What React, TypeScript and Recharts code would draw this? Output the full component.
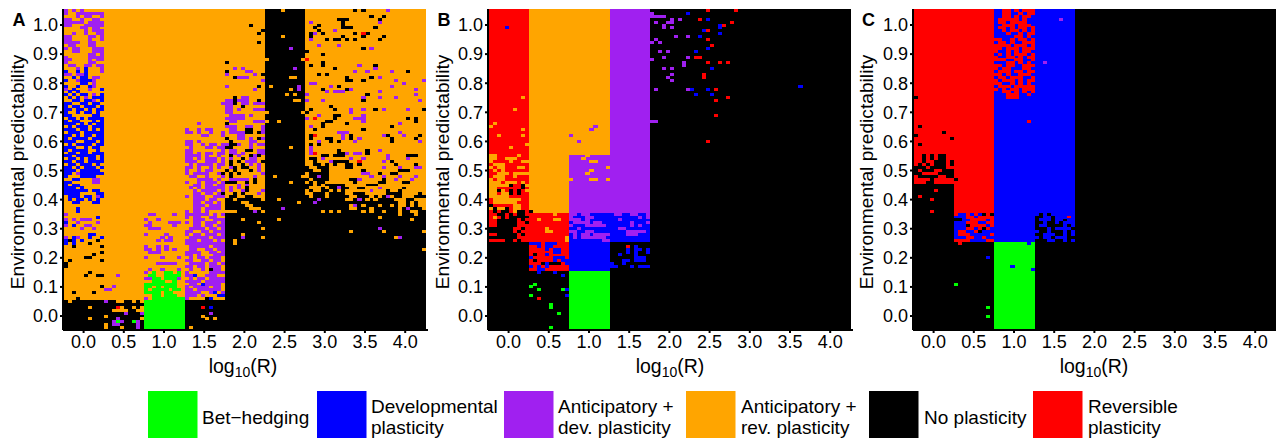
import React from "react";
import { ScatterChart, Scatter, XAxis, YAxis, ReferenceArea } from "recharts";

const xTicks = [0, 0.5, 1, 1.5, 2, 2.5, 3, 3.5, 4];
const yTicks = [0, 0.1, 0.2, 0.3, 0.4, 0.5, 0.6, 0.7, 0.8, 0.9, 1];
const palette: Record<string, string> = { G: "#00ff00", B: "#0000ff", P: "#a020f0", O: "#ffa500", K: "#000000", R: "#ff0000" };
const legendNames = [["Bet\u2212hedging"], ["Developmental", "plasticity"], ["Anticipatory +", "dev. plasticity"], ["Anticipatory +", "rev. plasticity"], ["No plasticity"], ["Reversible", "plasticity"]];
const legendKeys = ["G", "B", "P", "O", "K", "R"];

// solid regions: colour, log10R from/to, predictability from/to
const blocksA: [string, number, number, number, number][] = [
  ["K", -0.25, 4.25, -0.045, 1.055], ["O", -0.25, 1.75, 0.055, 1.055], ["O", 1.75, 2.25, 0.405, 1.055], ["O", 2.75, 4.25, 0.455, 1.055], ["G", 0.75, 1.25, -0.045, 0.055],
];
const blocksB: [string, number, number, number, number][] = [
  ["K", -0.25, 4.25, -0.045, 1.055], ["R", -0.25, 0.25, 0.355, 1.055], ["O", 0.25, 0.75, 0.355, 1.055], ["O", 0.75, 1.25, 0.555, 1.055], ["P", 0.75, 1.25, 0.355, 0.555], ["P", 1.25, 1.75, 0.355, 1.055], ["B", 0.75, 1.75, 0.255, 0.355], ["R", 0.25, 0.75, 0.155, 0.355], ["B", 0.75, 1.25, 0.155, 0.255], ["G", 0.75, 1.25, -0.045, 0.155],
];
const blocksC: [string, number, number, number, number][] = [
  ["K", -0.25, 4.25, -0.045, 1.055], ["R", -0.25, 0.25, 0.465, 1.055], ["R", 0.25, 0.75, 0.355, 1.055], ["B", 0.75, 1.75, 0.255, 1.055], ["G", 0.75, 1.25, -0.045, 0.255], ["B", 0.25, 0.75, 0.255, 0.355], ["K", 1.25, 1.75, 0.255, 0.355],
];

// speckled cells: predictability x100, then column:cells (each column is 0.05 of log10R)
const cellsA = [
"105 0:P.P.P..... 54:O 72:K 74:K 80:P",
"104 0:P..PPPPPPP",
"103 0:...P.PP..P 76:K 79:K",
"102 0:PP..P..PP. 68:KKK 78:K",
"101 0:PPPPP.PPPP 61:P 69:K 78:P",
"100 0:PP...PPPPP 46:K 63:K 69:K",
"99 0:....PP.PP. 62:K 69:KKK 77:K",
"98 0:.....P.PPP 49:K 63:K 67:P",
"97 0:..P..P..PP 48:K 61:K 62:P 64:K 72:K 74:R 75:K",
"96 0:PP....PP.P 54:O 61:K 69:K 74:K 79:K",
"95 0:PP....P..P 61:P 65:K 67:KK 70:K 72:K 78:K",
"94 0:PPPP..PP.. 48:K",
"93 0:.PP...PP.. 63:P 68:P",
"92 0:P.PP...PPP 56:P 74:K 76:P",
"91 0:..PP...PPP 60:K",
"90 0:......PP.P 64:K",
"89 0:P.....PPPP",
"88 0:PP....P.PP 50:O 59:O 60:R",
"87 0:P.....PP 40:K 64:K",
"86 0:.PP..PP.PP 61:K 64:K 73:P 77:K",
"85 0:...P.B...P 42:P 44:P 57:P 67:K 77:P",
"84 0:B..B.B...P 40:K 45:PP 72:P 75:P 81:P 85:K",
"83 0:PP.PPB.... 40:P 47:P 49:K 63:K 65:K",
"82 0:..B.BB.PP 42:K 43:PPP 56:OO 70:K 76:K 78:P",
"81 0:B..PBBBP.. 49:P 70:KK 74:K 82:P 89:P",
"80 0:....BB.P.. 61:PP 84:P",
"79 0:B..B..BP.. 40:P 48:K 51:O 58:P 66:P 68:K 81:P",
"78 0:P.B...P..B 47:P 56:O 58:P 64:K 70:K 71:P 87:P",
"77 0:.B.B...... 65:P 67:PPP 78:P",
"76 0:B.B.BB.P.B 55:O 57:O 60:P 75:K 87:P",
"75 0:.B.B.P.BBB 42:K 44:PP 74:P 78:P 82:P",
"74 0:..BB.BBP.B 40:PP 42:K 43:PPP 48:K 57:OO 60:P 64:P 74:K 88:P",
"73 0:BB..BB.BB. 39:P 40:PP 42:K 44:PP 47:PPP",
"72 0:B.BB.BBB.B 40:PP 44:K 66:K",
"71 0:BB.BB.B.BB 40:PP 43:P 47:PPP 61:K 67:K 71:P 74:P 77:K 79:P 85:P 89:K",
"70 0:B..B.BB.B. 40:PP 50:O 59:O 60:K 71:P",
"69 0:BB.....BB. 41:P 42:PP 44:P 46:P 63:P 67:KK 74:P",
"68 0:.BB.B.BBBB 40:PP 42:PPP 60:P 62:R 67:K 72:PPP 85:K 87:K",
"67 0:B.BB...B.B 41:PP 47:PPPP 50:O 53:O 65:KK 74:P 87:K",
"66 0:BBB.B.B.BB 33:P 40:K 64:K 70:K 83:P",
"65 0:.B.BBB.BBB 40:PPP 45:PP 49:P 61:P 64:K 81:K",
"64 0:BBB.BB.B.B 30:P..P.PP 41:PP 45:KK 49:P 62:K 74:K",
"63 0:.BBB.BBBBB 30:PP.P..P..P 41:PP 43:PP 45:KK 48:K 49:P 68:PPP 83:P",
"62 0:BB.B.BB.BB 34:PP 39:P 43:PP 61:K 62:R 69:P 71:K 79:P 80:K 84:P 88:K",
"61 0:B.BBBB.BBB 40:K 43:PP 46:P 48:K 49:P 61:K 65:KK 69:P 71:K 73:P 81:K 87:K",
"60 0:BBB..BBB.B 30:PP.P 41:K 46:PP 63:P 66:K 68:K 72:P 81:K 88:P",
"59 0:.B.BBBB.BB 30:PP..P.PP.P 40:PK 42:KP 46:P 48:PP 61:K 63:K",
"58 0:BBB..B.BB. 31:P...PP.PP 40:KK 46:P 56:O 61:P",
"57 0:B.BBBB..B. 30:PP.......P 41:PP 45:KK 48:PP 61:P 68:K 75:K 78:P",
"56 0:.BB.BB.BBB 30:PP.P.PP.PP 39:P.PP.P...PP 61:PR 68:KK 70:P 72:PP 75:K",
"55 0:BB.BBBBB.B 30:PPPP.P..P 39:..K.P..KPK 64:KK 67:KKK 80:P 85:KKK",
"54 0:.BB.B.BB.B 30:PP.P.PPP. 39:P.P..K.PP 61:KK 64:P 71:P 74:P 80:P 85:P",
"53 0:BB.BB.BBBB 30:PPP..PPP. 39:P.K.K.PPP.K 62:K 66:P 67:KKKK 73:R 79:P 81:K",
"52 0:.BB.BBB.B. 31:P.PPPP.P 39:P.K..K.P.P 62:KK 65:K 67:K 70:KK 73:K 82:K 87:K",
"51 0:BB.B.BBB.B 30:PP.P..P.P 39:..PK.KK..P 60:K 63:KKK 70:KK 79:P 83:P 87:PP",
"50 0:BBB.BBBBB. 30:P..P.PP.. 39:.K.K...K.P 60:KK 64:KK 74:K 83:KKK",
"49 0:BB.PBBBBBB 30:P.PPPP..P 39:K.K.K.....P 61:KKKKK 74:PP 78:K 81:KK",
"48 0:B...BBBB.. 31:PP..P... 39:P.K.....P 52:O 59:OO 61:KK 63:P 64:KK 76:P 79:P 83:P 87:P",
"47 0:..BB...PP. 33:PPPP.P 39:..PPPPP.K 60:K 62:KKKK 71:KK 73:P 79:K 82:P 86:P",
"46 0:BB.....PP. 30:P..P.PPP 39:PKKK..K.K 56:O 61:K 63:KK 72:K 78:KK 84:KK",
"45 0:B.BB...... 32:PP.PP.PP 39:P...P.P 62:O 64:O 70:OOOOO 78:OOOOOOOOOOOO",
"44 0:BBB.B..... 31:P.P.PPPP 39:P.P.P.K 61:OOO 65:O 68:P 71:OO 75:OOO 78:P 79:OOOOO 85:OOOOO",
"43 0:BBBBBB.BB. 32:P.PPPP.P 39:P.P..PK...P 60:O 62:OO 66:O 68:O 70:OOOOOO 76:P 77:OOO 81:OO 84:OOOOOO",
"42 0:BBBB....BB 32:PP.PP.PP 39:K..K.K...P 60:OO 65:O 70:OO 75:OOOOO 84:OOOO 89:O",
"41 0:.BBB.BB.PB 30:P.PPP..PP 39:P.KK..KK 61:O 65:O 71:OO 76:O 78:O 80:P 81:O 84:OOO",
"40 0:.B.BB.B.B. 32:PPP.PP 39:O 42:O 49:O 53:O 63:P 70:OO 73:P 75:O 77:O 82:OOO 87:OOO",
"39 0:..BB...BB. 32:PP.PP.PP 39:O 44:OO 58:O 62:P 83:OO 86:O 88:OO",
"38 32:PPP.PPPP 39:O 45:OO 71:O 72:P 74:O 78:O 81:O 83:OO 86:O 88:OO",
"37 0:...B...... 32:PP.PPPP 39:O 46:OOO 54:P 71:OO 76:O 83:O 85:P 89:O",
"36 0:...B 30:P.PP.P.. 39:OO 41:OO 47:P 49:O 64:O 66:O 68:O 74:O 76:O 79:O 83:O 86:OO",
"35 0:P 21:PP 27:P 30:PPPPPP.P. 39:P 83:O 87:O",
"34 8:B 30:P.PP..PP 78:O",
"33 0:P.P.PPP 20:P 23:P 32:PPP..PPP 39:P 44:O 53:O 86:O",
"32 0:B..P....P 21:P 26:PPP 30:P.PP.PPP.P 48:O",
"31 0:P.B..PP 20:PP 27:P 32:PP.PP.PP 39:P",
"30 0:....P..P 21:PP 23:P 31:PPPP.PP 39:P 49:O 78:P",
"29 30:PP..PP.PPP 71:O 79:O 89:O",
"28 6:BB 20:P 25:P 30:P.PP.PPP.P 39:P 44:O",
"27 0:P.BP..B..B 24:P 26:P 31:PPPPP.PPP 39:P 44:P 49:O 82:O 83:P",
"26 0:BKB.B...K. 23:P 25:PP 30:PPP.PPP.PP 39:O 42:O",
"25 0:B.B...K 30:PPPPPPPPP 39:P 42:O",
"24 2:K 9:K 20:P 25:P 23:P 31:PPPPP.PPP",
"23 20:PP 23:P 25:P 27:P 31:PP..PP.PP 39:P 89:O",
"22 9:K 21:PPP 30:PPPP..PP.P",
"21 7:K 30:PP.P...PPP 39:P",
"20 5:KK 20:P 24:P 28:P 31:P.PP.PPP",
"19 1:K 9:K 30:PP..PP.PP",
"18 0:K 23:PPPPP 31:PPPP.PP.P",
"17 0:K 30:PP.PP.PPP",
"16 21:P 24:P 28:P 31:P..P.KPP",
"15 6:K 20:P.G..GG.G 30:P.....PPPP",
"14 5:K 8:KK 13:P 21:GG..GGGG 30:PPB..PPP",
"13 20:PPGG.GGGP 31:P.PP.PPPP",
"12 22:GGG..G 30:PPPP.PPPPP",
"11 20:GGGGGGGG 31:PP.BPPPP",
"10 9:K 12:P 20:GG.G.GGG 30:P.PPPP.PP",
"9 10:PP 20:G.GGGG.GG 30:PP.PPPPPP",
"8 2:K 7:K 20:GGGG.GG 30:PPPP..PB.P",
"7 20:..GG.GGG 30:PPP.P...BB",
"6 3:K 20:P.GGGGGGGG 30:P....KB",
"5 1:O 10:P 13:OO 17:O 19:O",
"3 6:O 12:KR 14:O 17:O 19:O 34:R 36:B",
"2 12:OOOO 18:OO",
"1 15:P 19:P 36:P",
"0 10:O 34:O",
"-1 6:O 13:P 19:O 35:O 37:O",
"-2 12:PGP 17:G 18:P",
"-3 10:O 12:PP 18:P",
"-4 10:O 14:O 18:P 31:O",
];

const cellsB = [
"105 54:R 61:R",
"104 40:P 49:B",
"103 40:PPPP",
"102 45:P 47:P 52:R 54:B",
"101 41:P 44:PP 60:R",
"100 43:P 57:B 58:R",
"99 4:B 43:P 45:P 57:B",
"98 53:B 54:R",
"97 57:B",
"96 46:P 49:P 52:B",
"95 41:P 54:R",
"94 40:P 42:P",
"93 55:R",
"92 54:B",
"91 42:P 44:P 51:B",
"89 43:P 49:P 51:RR",
"88 40:P",
"87 48:P 54:R 57:R 59:R",
"86 48:P",
"85 43:P 45:P 55:B",
"83 45:P 53:R",
"82 44:P 53:R",
"81 45:P",
"79 77:B",
"78 41:P 49:P 50:B 54:B 56:R",
"76 51:B 55:B",
"75 8:O 59:R",
"74 56:R",
"71 6:O",
"69 56:R",
"67 40:PP",
"66 1:O",
"65 0:O 26:P",
"64 8:O 25:P",
"62 2:O 8:O 20:P",
"60 22:P 54:R",
"59 9:O",
"58 5:O",
"55 0:OO.....O 24:O",
"54 0:OO..OOO 23:O",
"53 0:O....O..OO 25:OO",
"52 1:OOO......O",
"51 0:O.OO...OO 29:O",
"50 1:O.O 25:O",
"49 2:OOO.OOOO 24:O",
"48 1:OOO..O",
"47 0:O.OO 20:O 25:OO 29:O",
"46 0:OOO.OOO.O",
"45 0:OOOOOK..KO",
"44 0:OO......K",
"43 0:OOKO.K.K.O",
"42 0:OO.OOK.K",
"41 0:OOOOO",
"40 1:OOOOOOO",
"39 1:OOOOOO",
"38 0:K.....OO",
"37 0:OKOOK.OO",
"36 1:K.KK.OKK.K",
"35 0:RR..R.R..R 16:O 20:PP.PP......PP..PP..P",
"34 0:ROR.R 20:P...PP...........P.P",
"33 0:RR.....R.R 12:O 16:OO 20:PPP.P.......P",
"32 0:RR.....RR 20:.PPPP.PP.......P...P",
"31 0:RR.....RRR 20:P...PPPPP......P.P",
"30 6:RR.R 14:O 20:..P.........PP",
"29 6:R.RR 14:OO 20:PP..PP........PPPPP",
"28 0:RR.....R.R 20:.P.PP.PPPP....PPP",
"27 7:RRR 19:O 21:P.PPPPPP",
"26 0:RRRR..R.RR 19:O 28:PP",
"25 10:BBB.BBB",
"24 12:B.BB 34:R 36:B",
"23 14:B.BB 34:B 36:BB 39:B",
"22 16:BB 34:B 36:B 39:B",
"21 11:K 14:B 32:B 36:B",
"20 10:B.....BBB 36:BBB",
"19 11:K....B.BB 33:BB 36:B 37:BB",
"18 13:KBKKK.B 30:B 33:B",
"17 10:B.B.B 30:BB 35:B 37:BBB",
"16 12:BB",
"15 12:B 16:B",
"14 18:B",
"11 11:G",
"10 10:G",
"9 12:G 18:GB",
"7 10:G 19:B",
"6 12:R",
"4 15:G",
"3 15:G",
"1 17:G",
"-4 15:G",
];

const cellsC = [
"105 20:..RR.R.RRR",
"104 20:..RR..R.RR",
"103 20:..RR.R.RR",
"102 20:.RRRRR.R 36:P",
"101 20:.RR.RRRR",
"100 20:..RRR.RRR",
"99 20:.RR.R.RR.R",
"98 20:..R.RR.R.R",
"97 20:...R..R.RR",
"96 20:.....RR.R",
"95 20:RR..R.RR.R",
"94 20:.RR.R..RRR",
"93 20:RRRR.RRR.R",
"92 20:RR.RRR.RRR",
"91 20:R..R.R.RR",
"90 20:.R.R.RRR.R",
"89 20:R..RR.R.RR",
"88 20:RRR..RR..R",
"87 20:...RR.R.R 32:P",
"86 20:RR.RR..RRR",
"85 20:R.RR...RR",
"84 20:.RRR.RR.RR",
"83 20:RR.R..RRR",
"82 20:.RR.RRR..R",
"81 20:R.RRR.R.RR",
"80 20:RR..R.R.R",
"79 20:.RRR.RRRRR",
"78 20:R.R.RR.RRR",
"77 20:..RR.R.R.R",
"76 20:...RRR..R",
"75 0:K 23:RRR",
"67 28:R",
"65 1:K",
"63 7:K",
"62 0:K",
"61 9:K",
"59 1:K",
"55 2:K.K.KK",
"54 2:K.K.KK",
"53 2:K..KKK.K",
"52 1:K.K.KKK.K",
"51 0:KKK.KKKK",
"50 0:K.KKK..KKK",
"49 0:KK....KKKK",
"48 0:.KKKKK..KK",
"47 4:K.....K",
"46 0:RRR..RRRRR",
"43 5:R",
"41 1:R",
"40 4:R",
"36 4:R",
"35 10:R..R.R.KRK 30:B.B.BBBBBB",
"34 13:RR.RRRR 32:BB.BBBRB",
"33 10:KK..RRRR.R 31:BBB.BB.BB",
"32 13:RRR..RR 32:B..B.BBB",
"31 13:KRRRR.R 31:BB....B.B",
"30 13:RR.RKR 33:B.BBBB",
"29 11:RR..RK 30:B..B...B.B",
"28 11:RRR.....R 32:BBB..B.B",
"27 13:RR..R 30:B.BB.BBB",
"26 10:RRRR....RR 33:BB..B.B",
"25 11:R 28:B",
"20 18:B",
"17 24:B",
"16 29:B",
"11 10:G",
"3 18:G",
"0 18:G",
];

const X_SHIFT = 0.006;

function parseCells(rows: string[]) {
  const groups: Record<string, { x: number; y: number }[]> = {};
  rows.forEach((row) => {
    const parts = row.split(" ");
    const y = Number(parts[0]) / 100;
    parts.slice(1).forEach((seg) => {
      const [start, text] = seg.split(":");
      text.split("").forEach((ch, i) => {
        if (ch === ".") return;
        (groups[ch] = groups[ch] || []).push({ x: -0.225 + X_SHIFT + 0.05 * (Number(start) + i), y });
      });
    });
  });
  return groups;
}

const CellShape = (props: any) => (
  <rect x={props.cx - 2.05} y={props.cy - 1.5} width={4.1} height={3} fill={props.fill} shapeRendering="crispEdges" />
);

const FONT = "'Liberation Sans', Arial, sans-serif";

function Panel({ blocks, cells, left }: { blocks: [string, number, number, number, number][]; cells: string[]; left: number }) {
  const groups = parseCells(cells);
  return (
    <div style={{ position: "absolute", left, top: 0 }}>
      <ScatterChart width={430} height={380} margin={{ top: 9, right: 2, bottom: 0, left: 0 }}>
        <XAxis type="number" dataKey="x" domain={[-0.2562, 4.2836]} ticks={xTicks} interval={0} height={50} allowDataOverflow
          tickFormatter={(v: number) => v.toFixed(1)} tickSize={3} tickMargin={2}
          axisLine={{ stroke: "#000", strokeWidth: 2 }} tickLine={{ stroke: "#000", strokeWidth: 2 }}
          tick={{ fill: "#000", fontSize: 18, fontFamily: FONT }} />
        <YAxis type="number" dataKey="y" domain={[-0.048, 1.055]} ticks={yTicks} interval={0} width={63} allowDataOverflow
          tickFormatter={(v: number) => v.toFixed(1)} tickSize={3} tickMargin={2}
          axisLine={{ stroke: "#000", strokeWidth: 2 }} tickLine={{ stroke: "#000", strokeWidth: 2 }}
          tick={{ fill: "#000", fontSize: 18, fontFamily: FONT }} />
        {blocks.map((b, i) => (
          <ReferenceArea key={i} x1={b[1] + X_SHIFT} x2={b[2] + X_SHIFT} y1={b[3]} y2={b[4]} fill={palette[b[0]]} fillOpacity={1} stroke="none" ifOverflow="visible" shapeRendering="crispEdges" />
        ))}
        {Object.keys(groups).map((k) => (
          <Scatter key={k} data={groups[k]} fill={palette[k]} isAnimationActive={false} shape={CellShape} />
        ))}
      </ScatterChart>
    </div>
  );
}

const legendX = [148, 317, 504, 686, 869, 1033];
const legendTextX = [202, 371, 558, 741, 924, 1088];

export default function App() {
  const titles = [
    { letter: "A", lx: 12.5, ty: 23.5, cx: 243 },
    { letter: "B", lx: 437.5, ty: 448.5, cx: 670 },
    { letter: "C", lx: 862, ty: 873, cx: 1094 },
  ];
  return (
    <div style={{ position: "fixed", left: 0, top: 0, width: 1276, height: 438, overflow: "hidden", background: "#fff" }}>
      <Panel blocks={blocksA} cells={cellsA} left={0} />
      <Panel blocks={blocksB} cells={cellsB} left={425} />
      <Panel blocks={blocksC} cells={cellsC} left={849.5} />
      <svg width={1276} height={438} style={{ position: "absolute", left: 0, top: 0, pointerEvents: "none" }} fontFamily={FONT}>
        {titles.map((t) => (
          <g key={t.letter}>
            <text x={t.lx} y={26} fontSize={18} fontWeight="bold" fill="#000">{t.letter}</text>
            <text transform={`translate(${t.ty},172) rotate(-90)`} textAnchor="middle" fontSize={19.2} fill="#000">Environmental predictability</text>
            <text x={t.cx} y={373} textAnchor="middle" fontSize={19.5} fill="#000">log<tspan dy={4} fontSize={14}>10</tspan><tspan dy={-4}>(R)</tspan></text>
          </g>
        ))}
        {legendKeys.map((k, i) => {
          const lines = legendNames[i];
          return (
            <g key={k}>
              <rect x={legendX[i]} y={391} width={49.5} height={47} fill={palette[k]} />
              {lines.length === 1 ? (
                <text x={legendTextX[i]} y={424} fontSize={19} fill="#000">{lines[0]}</text>
              ) : (
                <>
                  <text x={legendTextX[i]} y={413} fontSize={19} fill="#000">{lines[0]}</text>
                  <text x={legendTextX[i]} y={434} fontSize={19} fill="#000">{lines[1]}</text>
                </>
              )}
            </g>
          );
        })}
      </svg>
    </div>
  );
}
